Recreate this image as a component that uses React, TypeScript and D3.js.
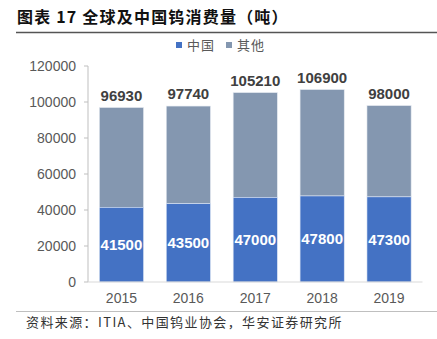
import React from "react";
import * as d3 from "d3";

const years = ["2015", "2016", "2017", "2018", "2019"];
const chinaValues = [41500, 43500, 47000, 47800, 47300];
const totalValues = [96930, 97740, 105210, 106900, 98000];
const yTicks = [0, 20000, 40000, 60000, 80000, 100000, 120000];
const seriesNames = ["中国", "其他"];

const W = 437;
const H = 339;
const FONT = "'Liberation Sans', Arial, 'Noto Sans CJK SC', sans-serif";
const CJK = "'Noto Sans CJK SC', 'Liberation Sans', sans-serif";
const BLUE = "#4472C4";
const GRAY = "#8497B0";

export default function App() {
  const x = d3.scaleBand<string>().domain(years).range([88, 422.5]).paddingInner(0.34).paddingOuter(0.17);
  const y = d3.scaleLinear().domain([0, 120000]).range([282, 66]);
  const bw = x.bandwidth();

  return (
    <svg width={W} height={H} style={{ position: "absolute", left: 0, top: 0, background: "#fff" }}>
      <text x={17} y={23} fontFamily={CJK} fontSize={16} fontWeight="bold" fill="#111" letterSpacing={1.2}>
        图表 17 全球及中国钨消费量（吨）
      </text>
      <line x1={16} x2={437} y1={32.5} y2={32.5} stroke="#555" strokeWidth={1.5} />

      {/* legend */}
      <rect x={176} y={42} width={6} height={6} fill={BLUE} />
      <text x={187} y={49.5} fontFamily={CJK} fontSize={13} fill="#595959" letterSpacing={1}>{seriesNames[0]}</text>
      <rect x={226} y={42} width={6} height={6} fill={GRAY} />
      <text x={237} y={49.5} fontFamily={CJK} fontSize={13} fill="#595959" letterSpacing={1}>{seriesNames[1]}</text>

      {/* y axis */}
      <line x1={88} x2={88} y1={y(120000)} y2={y(0)} stroke="#bfbfbf" />
      {yTicks.map((t) => (
        <g key={t}>
          <line x1={84} x2={88} y1={y(t)} y2={y(t)} stroke="#bfbfbf" />
          <text x={76} y={y(t) + 5} textAnchor="end" fontFamily={FONT} fontSize={14} fill="#595959">{t}</text>
        </g>
      ))}

      {/* bars */}
      {years.map((yr, i) => {
        const x0 = x(yr)!;
        const c = chinaValues[i];
        const tot = totalValues[i];
        return (
          <g key={yr}>
            <rect x={x0} y={y(tot)} width={bw} height={y(c) - y(tot)} fill={GRAY} stroke="#e4e9f0" strokeWidth={0.6} />
            <rect x={x0} y={y(c)} width={bw} height={y(0) - y(c)} fill={BLUE} stroke="#dbe4f3" strokeWidth={0.6} />
            <text x={x0 + bw / 2} y={(y(c) + y(0)) / 2 + 5.5} textAnchor="middle" fontFamily={FONT} fontSize={15} fontWeight="bold" fill="#fff">{c}</text>
            <text x={x0 + bw / 2} y={y(tot) - 7} textAnchor="middle" fontFamily={FONT} fontSize={15} fontWeight="bold" fill="#404040">{tot}</text>
            <text x={x0 + bw / 2} y={303} textAnchor="middle" fontFamily={FONT} fontSize={14} fill="#595959">{yr}</text>
          </g>
        );
      })}

      {/* x axis */}
      <line x1={88} x2={422.5} y1={282} y2={282} stroke="#d9d9d9" />

      <line x1={16} x2={437} y1={311.5} y2={311.5} stroke="#bfbfbf" strokeWidth={1} />
      <text x={26} y={327} fontFamily={CJK} fontSize={13} fill="#333" letterSpacing={1.4}>
        资料来源：ITIA、中国钨业协会，华安证券研究所
      </text>
    </svg>
  );
}
